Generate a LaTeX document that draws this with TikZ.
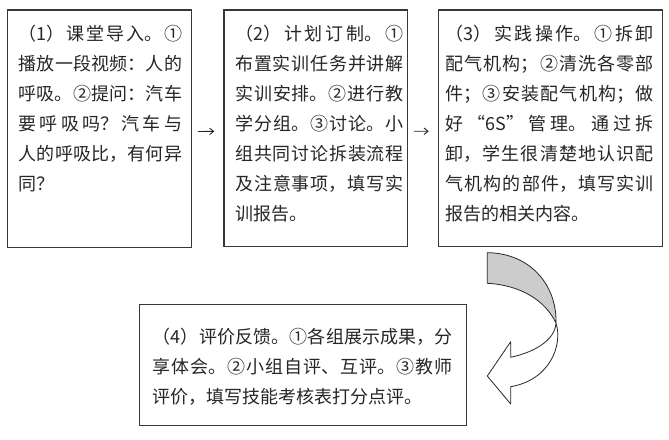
\documentclass[tikz,border=0pt]{standalone}
\usepackage{fontspec}
\setmainfont{Noto Sans CJK SC}
\usetikzlibrary{arrows.meta}
\XeTeXlinebreaklocale "zh"
\XeTeXlinebreakskip=0pt plus 6pt
\tolerance=9999
\parskip=0pt
\parindent=0pt
\newcommand{\firststrut}{\rule{0pt}{20pt}}
\tikzset{
  box/.style={draw=black!78, line width=1.2pt, inner sep=0pt, anchor=north west},
  txt/.style={inner sep=0pt, anchor=north west, align=justify, text=black!85,
    font=\fontsize{18}{30}\selectfont},
  conn/.style={draw=black!85, line width=0.9pt, -{Straight Barb[length=4pt,width=6.5pt]},
    shorten <=6pt, shorten >=9pt},
  ribbon/.style={draw=black!85, line width=0.8pt, line join=round}
}
\begin{document}
\begin{tikzpicture}[x=1pt,y=-1pt]
\useasboundingbox (0,0) rectangle (669,439);
% boxes
\node[box, minimum width=184pt, minimum height=237.4pt] (b1) at (6.7,9.3) {};
\node[box, minimum width=183.4pt, minimum height=236.6pt] (b2) at (223.3,9.3) {};
\node[box, minimum width=224pt, minimum height=236.7pt] (b3) at (437.7,9.3) {};
\node[box, minimum width=327pt, minimum height=121pt] (b4) at (139,304) {};
% texts
\node[txt, text width=163.5pt] (t1) at (18.5,19.8) {\firststrut（1）课堂导入。①\linebreak 播放一段视频：人的\linebreak 呼吸。②提问：汽车\linebreak 要呼吸吗？汽车与\linebreak 人的呼吸比，有何异\linebreak 同？};
\node[txt, text width=168.5pt] (t2) at (235,19.8) {\firststrut（2）计划订制。①\linebreak 布置实训任务并讲解\linebreak 实训安排。②进行教\linebreak 学分组。③讨论。小\linebreak 组共同讨论拆装流程\linebreak 及注意事项，填写实\linebreak 训报告。};
\node[txt, text width=208pt] (t3) at (445.4,19.8) {\firststrut（3）实践操作。①拆卸\linebreak 配气机构；②清洗各零部\linebreak 件；③安装配气机构；做\linebreak 好“6S”管理。通过拆\linebreak 卸，学生很清楚地认识配\linebreak 气机构的部件，填写实训\linebreak 报告的相关内容。};
\node[txt, text width=300pt] (t4) at (152.7,322.8) {\firststrut（4）评价反馈。①各组展示成果，分\linebreak 享体会。②小组自评、互评。③教师\linebreak 评价，填写技能考核表打分点评。};
% connectors
\draw[conn] ([yshift=-3pt]b1.east) -- ([yshift=-3pt]b2.west);
\draw[conn] ([yshift=-3pt]b2.east) -- ([yshift=-3pt]b3.west);
% curved ribbon arrow
\coordinate (A) at (487.3,252.7);
\coordinate (B) at (487.3,283.3);
\coordinate (X) at (556,323);
\coordinate (S1) at (510.7,357.3);
\coordinate (T1) at (510.7,341.7);
\coordinate (Tip) at (487.3,376);
\coordinate (T2) at (510.7,404);
\coordinate (S2) at (510.7,386.7);
\draw[ribbon, fill=gray!40] (A) .. controls (530,253) and (557,285) .. (X)
  .. controls (545,300) and (520,285) .. (B) -- cycle;
\draw[ribbon, fill=white] (X) .. controls (555,340) and (535,352) .. (S1)
  -- (T1) -- (Tip) -- (T2) -- (S2) .. controls (550,380) and (563,345) .. (X) -- cycle;
\end{tikzpicture}
\end{document}
